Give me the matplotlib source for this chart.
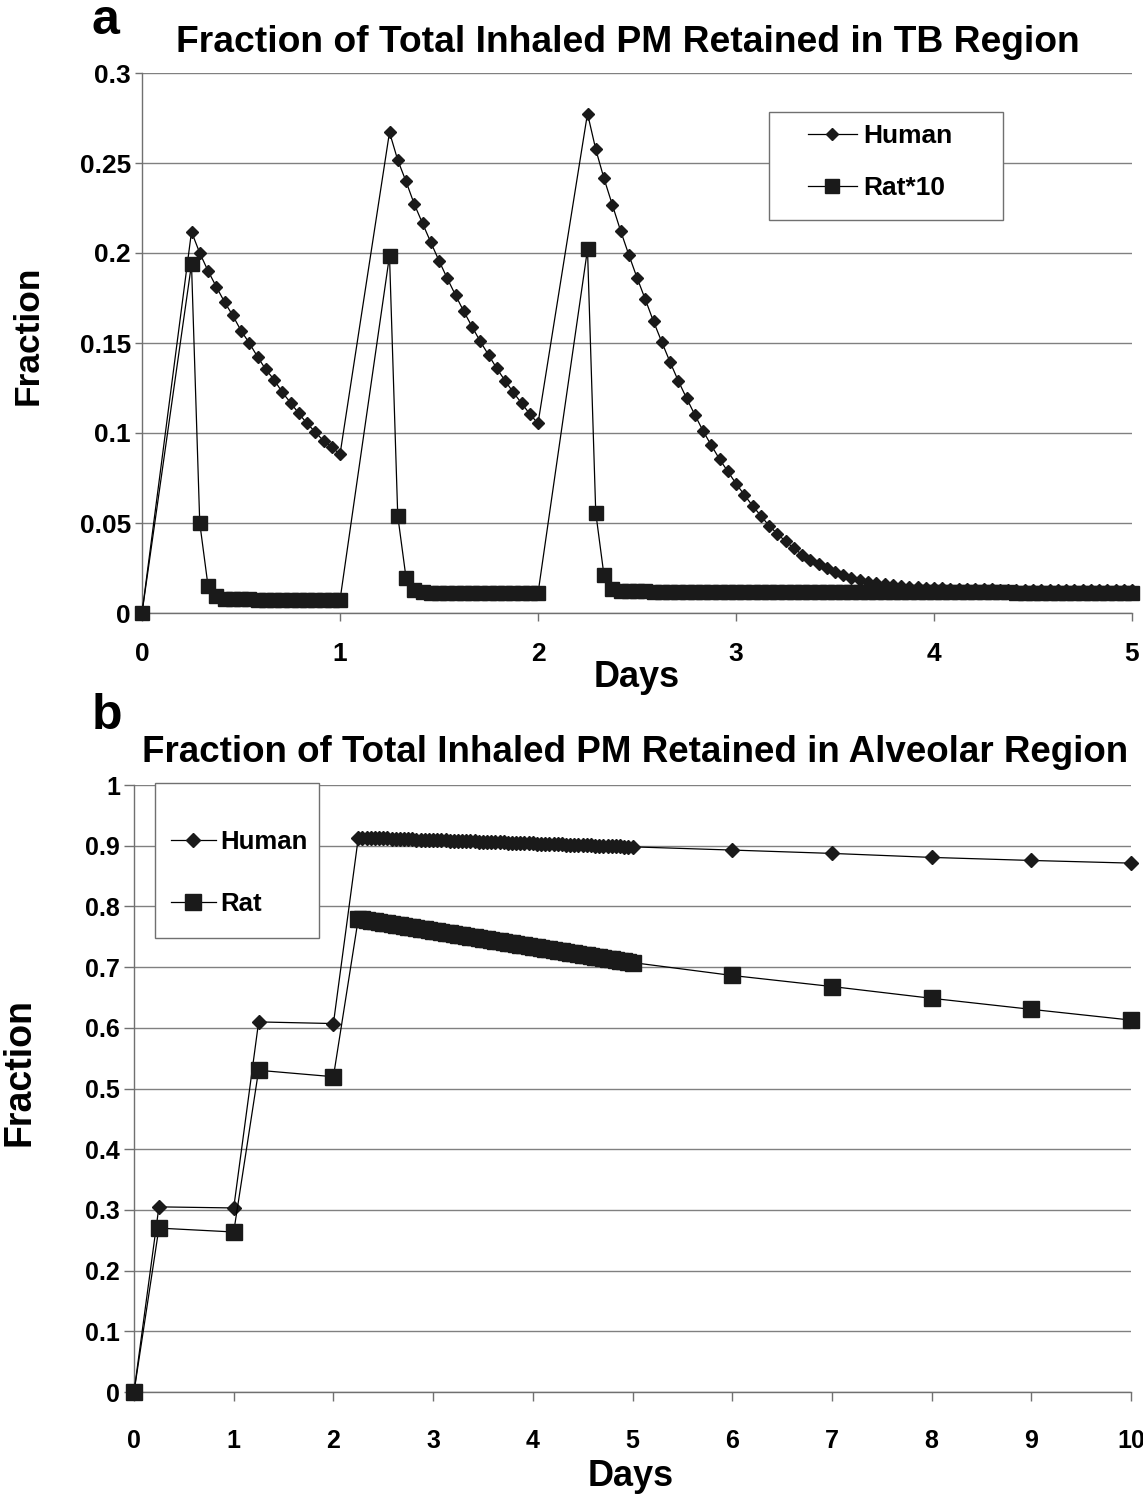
import numpy as np
import matplotlib
matplotlib.use("Agg")
import matplotlib.pyplot as plt
from matplotlib.patches import Rectangle

FONT = ["Liberation Sans", "DejaVu Sans"]

# ---- panel a : TB region, sampled hourly after each 6 h exposure ----
tb_human_day1 = [0.2118, 0.2000, 0.1901, 0.1813, 0.1728, 0.1653, 0.1569, 0.1500, 0.1424, 0.1353,
                 0.1297, 0.1226, 0.1169, 0.1109, 0.1053, 0.1006, 0.0956, 0.0922, 0.0881]
tb_human_day2 = [0.2671, 0.2516, 0.2398, 0.2272, 0.2165, 0.2060, 0.1957, 0.1859, 0.1766, 0.1676,
                 0.1591, 0.1509, 0.1434, 0.1359, 0.1291, 0.1226, 0.1166, 0.1106, 0.1053]
tb_human_day3 = [0.2775, 0.2576, 0.2414, 0.2269, 0.2125, 0.1991, 0.1863, 0.1743, 0.1620, 0.1506,
                 0.1395, 0.1290, 0.1194, 0.1102, 0.1012, 0.0932, 0.0855, 0.0787, 0.0719, 0.0657,
                 0.0596, 0.0541, 0.0485, 0.0441, 0.0398, 0.0361, 0.0324, 0.0296, 0.0272, 0.0250,
                 0.0228, 0.0209, 0.0194, 0.0183, 0.0175, 0.0168, 0.0162, 0.0157, 0.0152, 0.0147,
                 0.0143, 0.0141, 0.0139, 0.0137, 0.0135, 0.0134, 0.0133, 0.0132, 0.0131, 0.0131,
                 0.0130, 0.0130, 0.0130, 0.0129, 0.0129, 0.0128, 0.0128, 0.0128, 0.0127, 0.0127,
                 0.0127, 0.0127, 0.0126, 0.0126, 0.0126, 0.0126, 0.0126]

tb_rat_day1 = [0.1938, 0.0500, 0.0152, 0.0092, 0.0080, 0.0077, 0.0076, 0.0076, 0.0075, 0.0075,
               0.0075, 0.0074, 0.0074, 0.0074, 0.0073, 0.0073, 0.0073, 0.0073, 0.0072]
tb_rat_day2 = [0.1985, 0.0540, 0.0197, 0.0128, 0.0116, 0.0113, 0.0112, 0.0112, 0.0112, 0.0111,
               0.0111, 0.0111, 0.0111, 0.0110, 0.0110, 0.0110, 0.0110, 0.0110, 0.0109]
tb_rat_day3 = [0.2020, 0.0557, 0.0209, 0.0135, 0.0124, 0.0121, 0.0120, 0.0120, 0.0119, 0.0119,
               0.0119, 0.0119, 0.0119, 0.0118, 0.0118, 0.0118, 0.0118, 0.0118, 0.0118, 0.0117,
               0.0117, 0.0117, 0.0117, 0.0117, 0.0117, 0.0117, 0.0116, 0.0116, 0.0116, 0.0116,
               0.0116, 0.0116, 0.0116, 0.0115, 0.0115, 0.0115, 0.0115, 0.0115, 0.0115, 0.0115,
               0.0115, 0.0115, 0.0114, 0.0114, 0.0114, 0.0114, 0.0114, 0.0114, 0.0114, 0.0114,
               0.0114, 0.0114, 0.0113, 0.0113, 0.0113, 0.0113, 0.0113, 0.0113, 0.0113, 0.0113,
               0.0113, 0.0113, 0.0113, 0.0113, 0.0113, 0.0113, 0.0113]

# ---- panel b : alveolar region ----
alv_days_early = [0, 0.25, 1, 1.25, 2]
alv_human_early = [0.0, 0.3050, 0.3032, 0.6097, 0.6070]
alv_rat_early = [0.0, 0.2700, 0.2636, 0.5300, 0.5194]

alv_human_dense = [0.9135, 0.9133, 0.9130, 0.9128, 0.9126, 0.9123, 0.9121, 0.9119, 0.9116, 0.9114,
                   0.9112, 0.9109, 0.9107, 0.9105, 0.9102, 0.9100, 0.9098, 0.9095, 0.9093, 0.9091,
                   0.9088, 0.9086, 0.9084, 0.9081, 0.9079, 0.9077, 0.9074, 0.9072, 0.9070, 0.9067,
                   0.9065, 0.9063, 0.9060, 0.9058, 0.9056, 0.9053, 0.9051, 0.9049, 0.9046, 0.9044,
                   0.9042, 0.9039, 0.9037, 0.9035, 0.9032, 0.9030, 0.9028, 0.9025, 0.9023, 0.9021,
                   0.9018, 0.9016, 0.9014, 0.9011, 0.9009, 0.9007, 0.9004, 0.9002, 0.9000, 0.8997,
                   0.8995, 0.8993, 0.8990, 0.8988, 0.8986, 0.8983, 0.8981]
alv_rat_dense = [0.7800, 0.7789, 0.7778, 0.7767, 0.7756, 0.7745, 0.7734, 0.7723, 0.7712, 0.7701,
                 0.7690, 0.7679, 0.7668, 0.7657, 0.7646, 0.7635, 0.7624, 0.7613, 0.7602, 0.7591,
                 0.7580, 0.7569, 0.7558, 0.7547, 0.7536, 0.7525, 0.7514, 0.7503, 0.7492, 0.7481,
                 0.7470, 0.7459, 0.7448, 0.7437, 0.7426, 0.7415, 0.7404, 0.7393, 0.7382, 0.7371,
                 0.7360, 0.7349, 0.7338, 0.7327, 0.7316, 0.7305, 0.7294, 0.7283, 0.7272, 0.7261,
                 0.7250, 0.7239, 0.7228, 0.7217, 0.7206, 0.7195, 0.7184, 0.7173, 0.7162, 0.7151,
                 0.7140, 0.7129, 0.7118, 0.7107, 0.7096, 0.7085, 0.7075]

alv_days_late = [6, 7, 8, 9, 10]
alv_human_late = [0.8928, 0.8873, 0.8807, 0.8757, 0.8713]
alv_rat_late = [0.6862, 0.6680, 0.6486, 0.6304, 0.6127]


def hourly(start_day, end_day):
    n = int(round((end_day - start_day) * 24)) + 1
    return list(start_day + np.arange(n) / 24.0)


# assemble x grids (hourly sampling)
days_a = [0.0] + hourly(0.25, 1.0) + hourly(1.25, 2.0) + hourly(2.25, 5.0)
human_a = [0.0] + tb_human_day1 + tb_human_day2 + tb_human_day3
rat_a = [0.0] + tb_rat_day1 + tb_rat_day2 + tb_rat_day3

days_b = alv_days_early + hourly(2.25, 5.0) + alv_days_late
human_b = alv_human_early + alv_human_dense + alv_human_late
rat_b = alv_rat_early + alv_rat_dense + alv_rat_late

W, H = 1143, 1500
fig = plt.figure(figsize=(W / 100, H / 100), dpi=100)


def fx(px):
    return px / W


def fy(py):
    return 1 - py / H


def style_axes(ax):
    for s in ["top", "right"]:
        ax.spines[s].set_visible(False)
    for s in ["left", "bottom"]:
        ax.spines[s].set_color("#707070")
        ax.spines[s].set_linewidth(1.0)
    ax.grid(axis="y", color="#808080", linewidth=1.0)
    ax.set_axisbelow(True)
    ax.tick_params(colors="#707070", labelcolor="black", width=1.0)


def legend_box(ax, x0, y0, x1, y1):
    ax.add_patch(Rectangle((fx(x0), fy(y1)), fx(x1 - x0), (y1 - y0) / H,
                           transform=fig.transFigure, facecolor="white",
                           edgecolor="#707070", linewidth=1.0, zorder=4,
                           clip_on=False))


# ---- panel a ----
ax1 = fig.add_axes([fx(142), fy(613), fx(1132 - 142), (613 - 73) / H])
ax1.plot(days_a, human_a, color="black", lw=0.9, marker="D", ms=6.6,
         mfc="#1a1a1a", mec="#1a1a1a", label="Human", clip_on=False, zorder=3)
ax1.plot(days_a, rat_a, color="black", lw=0.9, marker="s", ms=9.8,
         mfc="#1a1a1a", mec="#1a1a1a", label="Rat*10", clip_on=False, zorder=3)
ax1.set_xlim(0, 5)
ax1.set_ylim(0, 0.3)
ax1.set_xticks([0, 1, 2, 3, 4, 5])
ax1.set_yticks([0, 0.05, 0.1, 0.15, 0.2, 0.25, 0.3])
ax1.set_yticklabels(["0", "0.05", "0.1", "0.15", "0.2", "0.25", "0.3"])
style_axes(ax1)
ax1.tick_params(axis="x", direction="out", length=6, pad=15)
ax1.tick_params(axis="y", direction="out", length=5, pad=3)
for lab in ax1.get_xticklabels() + ax1.get_yticklabels():
    lab.set_fontfamily(FONT)
    lab.set_fontweight("bold")
    lab.set_fontsize(19)

legend_box(ax1, 769, 112, 1003, 220)
leg1 = ax1.legend(loc="center left", bbox_to_anchor=(fx(808), fy(162)),
                  bbox_transform=fig.transFigure, frameon=False,
                  handlelength=1.85, handletextpad=0.25, labelspacing=1.05,
                  borderpad=0, borderaxespad=0,
                  prop={"family": FONT, "weight": "bold", "size": 19})
leg1.set_zorder(5)

fig.text(fx(105), fy(21), "a", family=FONT, weight="bold", fontsize=36,
         ha="center", va="center")
fig.text(fx(628), fy(42), "Fraction of Total Inhaled PM Retained in TB Region",
         family=FONT, weight="bold", fontsize=26.8, ha="center", va="center")
fig.text(fx(637), fy(678), "Days", family=FONT, weight="bold", fontsize=26,
         ha="center", va="center")
fig.text(fx(28), fy(335), "Fraction", family=FONT, weight="bold", fontsize=25.5,
         ha="center", va="center", rotation=90)

# ---- panel b ----
ax2 = fig.add_axes([fx(134), fy(1392), fx(1131 - 134), (1392 - 785) / H])
ax2.plot(days_b, human_b, color="black", lw=0.9, marker="D", ms=7.6,
         mfc="#1a1a1a", mec="#1a1a1a", label="Human", clip_on=False, zorder=3)
ax2.plot(days_b, rat_b, color="black", lw=0.9, marker="s", ms=11.5,
         mfc="#1a1a1a", mec="#1a1a1a", label="Rat", clip_on=False, zorder=3)
ax2.set_xlim(0, 10)
ax2.set_ylim(0, 1)
ax2.set_xticks(range(0, 11))
ax2.set_yticks([0, 0.1, 0.2, 0.3, 0.4, 0.5, 0.6, 0.7, 0.8, 0.9, 1])
ax2.set_yticklabels(["0", "0.1", "0.2", "0.3", "0.4", "0.5", "0.6", "0.7", "0.8", "0.9", "1"])
style_axes(ax2)
ax2.tick_params(axis="x", direction="out", length=6.5, pad=20)
ax2.tick_params(axis="y", direction="out", length=7, pad=3)
for lab in ax2.get_xticklabels() + ax2.get_yticklabels():
    lab.set_fontfamily(FONT)
    lab.set_fontweight("bold")
    lab.set_fontsize(18)

legend_box(ax2, 155, 783, 319, 938)
leg2 = ax2.legend(loc="center left", bbox_to_anchor=(fx(171), fy(873)),
                  bbox_transform=fig.transFigure, frameon=False,
                  handlelength=1.75, handletextpad=0.15, labelspacing=1.5,
                  borderpad=0, borderaxespad=0,
                  prop={"family": FONT, "weight": "bold", "size": 18.5})
leg2.set_zorder(5)

fig.text(fx(107), fy(716), "b", family=FONT, weight="bold", fontsize=36,
         ha="center", va="center")
fig.text(fx(635), fy(752), "Fraction of Total Inhaled PM Retained in Alveolar Region",
         family=FONT, weight="bold", fontsize=26.5, ha="center", va="center")
fig.text(fx(631), fy(1477), "Days", family=FONT, weight="bold", fontsize=26,
         ha="center", va="center")
fig.text(fx(20), fy(1072), "Fraction", family=FONT, weight="bold", fontsize=27,
         ha="center", va="center", rotation=90)

fig.savefig("out.png", dpi=100)
